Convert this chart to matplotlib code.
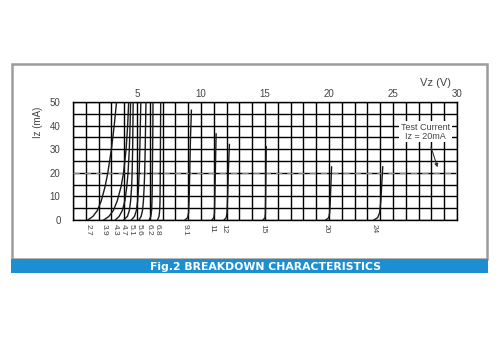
import matplotlib
matplotlib.use("Agg")
import matplotlib.pyplot as plt
from matplotlib.patches import Rectangle

plt.rcParams['font.family'] = ['Liberation Sans', 'DejaVu Sans']

# zener curves: voltage (V) and current (mA) points
zener_labels = ['2.7', '3.9', '4.3', '4.7', '5.1', '5.6', '6.2', '6.8',
                '9.1', '11', '12', '15', '20', '24']
low_i = [0, 1.5, 4, 8, 14, 20, 30, 40, 50]
curve_v = [
    [1.15, 1.55, 1.9, 2.2, 2.5, 2.72, 3.0, 3.22, 3.4],
    [2.4, 2.8, 3.15, 3.45, 3.75, 3.95, 4.15, 4.27, 4.35],
    [3.3, 3.6, 3.85, 4.05, 4.2, 4.3, 4.4, 4.46, 4.5],
    [3.95, 4.25, 4.4, 4.5, 4.58, 4.62, 4.66, 4.68, 4.7],
    [4.55, 4.8, 4.95, 5.05, 5.12, 5.17, 5.22, 5.26, 5.3],
    [5.15, 5.32, 5.43, 5.5, 5.56, 5.6, 5.64, 5.67, 5.7],
    [5.95, 6.08, 6.14, 6.17, 6.19, 6.2, 6.22, 6.24, 6.25],
    [6.6, 6.72, 6.77, 6.8, 6.81, 6.82, 6.83, 6.84, 6.85],
    [8.75, 8.95, 9.03, 9.08, 9.12, 9.18, 9.25],
    [10.85, 11.0, 11.05, 11.08, 11.12, 11.18],
    [11.8, 11.97, 12.03, 12.08, 12.13, 12.22],
    [14.85, 15.0, 15.03, 15.05, 15.07, 15.1],
    [19.75, 19.98, 20.05, 20.1, 20.15, 20.2],
    [23.5, 23.8, 23.95, 24.05, 24.12, 24.2],
]
curve_i = [low_i] * 8 + [
    [0, 1, 3, 10, 20, 35, 46.5],
    [0, 1, 3, 10, 20, 36.5],
    [0, 1, 3, 10, 20, 32],
    [0, 1, 3, 10, 20, 31],
    [0, 1, 3, 8, 15, 22.5],
    [0, 1, 3, 8, 15, 22.5],
]
x_ticks = [5, 10, 15, 20, 25, 30]
y_ticks = [0, 10, 20, 30, 40, 50]
test_current = 20

fig = plt.figure(figsize=(5, 3.58), dpi=100)

# grey frame and blue caption band
fig.patches.append(Rectangle((12 / 500, 1 - 259 / 358), 475 / 500, 195 / 358,
                             transform=fig.transFigure, fill=False,
                             edgecolor='#9c9c9c', lw=1.8))
fig.patches.append(Rectangle((11 / 500, 1 - 273 / 358), 477 / 500, 14 / 358,
                             transform=fig.transFigure, facecolor='#1b8fd2',
                             edgecolor='none'))
fig.text(0.53, 1 - 266.5 / 358, 'Fig.2 BREAKDOWN CHARACTERISTICS', color='white',
         fontsize=7.8, fontweight='bold', ha='center', va='center',
         family='DejaVu Sans')

ax = fig.add_axes([73 / 500, 1 - 220 / 358, 384 / 500, 118 / 358])
ax.set_xlim(0, 30)
ax.set_ylim(0, 50)
ax.set_xticks(x_ticks)
ax.set_xticks(range(0, 31), minor=True)
ax.set_yticks(y_ticks)
ax.set_yticks(range(0, 51, 5), minor=True)
ax.grid(True, which='both', color='black', lw=1.0)
ax.tick_params(which='both', length=0, labelsize=7, labelcolor='#444444')
ax.tick_params(axis='x', top=True, labeltop=True, bottom=False, labelbottom=False, pad=2)
ax.tick_params(axis='y', pad=9)
for s in ax.spines.values():
    s.set_color('black')
    s.set_linewidth(1.0)

ax.axhline(test_current, color='#8a8a8a', lw=0.9, ls=(0, (5, 4)), zorder=3)

for lab, v, i in zip(zener_labels, curve_v, curve_i):
    ax.plot(v, i, color='#1a1a1a', lw=1.0, zorder=4)
    ax.text(v[0], -1.5, lab, rotation=-90, ha='center', va='top', fontsize=6,
            color='#444444', clip_on=False)

ax.text(27.55, 37.5, 'Test Current\nIz = 20mA', ha='center', va='center', fontsize=6.5,
        color='#444444', linespacing=1.0, zorder=6,
        bbox=dict(facecolor='white', edgecolor='none', pad=1.2))
ax.annotate('', xy=(28.55, 21.2), xytext=(27.9, 32),
            arrowprops=dict(arrowstyle='-|>', color='#333333', lw=0.8,
                            mutation_scale=5), zorder=6)

fig.text(435 / 500, 1 - 83 / 358, 'Vz (V)', fontsize=8, color='#444444',
         ha='center', va='center')
fig.text(38 / 500, 1 - 122 / 358, 'Iz (mA)', fontsize=7, color='#444444',
         rotation=90, ha='center', va='center')

fig.savefig('out.png', dpi=100, facecolor='white')
